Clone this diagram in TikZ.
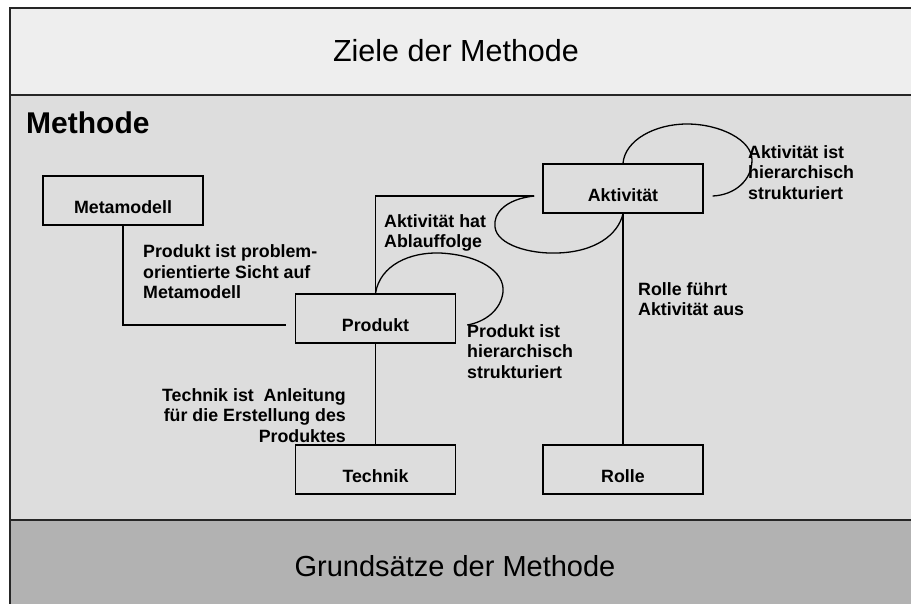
\documentclass[tikz,border=0pt]{standalone}
\usepackage{fontspec}
\setmainfont{Liberation Sans}
\definecolor{zielgray}{RGB}{238,238,238}
\definecolor{methgray}{RGB}{221,221,221}
\definecolor{grundgray}{RGB}{178,178,178}
\begin{document}
\begin{tikzpicture}[x=1pt,y=-1pt,
  frame/.style={line width=1.6pt,black!85},
  box/.style={draw,line width=1.4pt,minimum width=160pt,minimum height=49pt,inner sep=0pt,
    font=\bfseries\fontsize{17.8}{20.5}\selectfont,text height=26pt,text depth=0pt},
  lbl/.style={inner sep=0pt,font=\bfseries\fontsize{17.8}{20.5}\selectfont},
  link/.style={line width=1.3pt}]
  \useasboundingbox (0,0) rectangle (911,603);
  \clip (0,0) rectangle (911,603);
  %Bands
  \fill[zielgray] (10,8) rectangle (920,95);
  \fill[methgray] (10,95) rectangle (920,520);
  \fill[grundgray] (10,520) rectangle (920,610);
  \draw[frame] (920,8) -- (10,8) -- (10,610);
  \draw[frame] (10,95) -- (920,95);
  \draw[frame] (10,520) -- (920,520);
  \node[anchor=base,inner sep=0pt,font=\fontsize{30.5}{36}\selectfont] (ziele) at (456,61) {Ziele der Methode};
  \node[anchor=base,inner sep=0pt,font=\fontsize{29}{34}\selectfont] (grund) at (455,576) {Grundsätze der Methode};
  \node[anchor=base west,inner sep=0pt,font=\bfseries\fontsize{30}{36}\selectfont] (meth) at (26,133) {Methode};

  %Elements of the method
  \node[box] (meta) at (123,200.5) {Metamodell};
  \node[box] (prod) at (375.5,318.5) {Produkt};
  \node[box] (tech) at (375.5,469.5) {Technik};
  \node[box] (akt) at (623,188.5) {Aktivität};
  \node[box] (rolle) at (623,469.5) {Rolle};

  %Relations
  \draw[link] (meta.south) |- ([xshift=-9pt,yshift=-6.5pt]prod.west);
  \draw[link] (prod.north) |- ([xshift=-8pt,yshift=-7.5pt]akt.west) coordinate (ablauf);
  \draw[link] (prod.south) -- (tech.north);
  \draw[link] (akt.south) -- (rolle.north);
  %Self relations
  \draw[link] (ablauf) .. controls (505,199) and (493,214) .. (495,227)
    .. controls (497,245) and (530,254) .. (557,253)
    .. controls (595,252) and (618,235) .. (akt.south);
  \draw[link] (prod.north) .. controls (380,265) and (410,252) .. (440,253)
    .. controls (480,255) and (505,272) .. (503,292)
    .. controls (501,310) and (485,322) .. ([xshift=11pt,yshift=-6.5pt]prod.east);
  \draw[link] (akt.north) .. controls (625,140) and (655,124) .. (687,124)
    .. controls (720,124) and (752,140) .. (752,160)
    .. controls (752,180) and (735,195) .. ([xshift=9pt,yshift=-7.5pt]akt.east);

  %Labels of the relations
  \node[lbl,anchor=north west,align=left] (metalbl) at (143,244.5) {Produkt ist problem-\\orientierte Sicht auf\\Metamodell};
  \node[lbl,anchor=north west,align=left] (ablauflbl) at (384,214) {Aktivität hat\\Ablauffolge};
  \node[lbl,anchor=north west,align=left] (prodlbl) at (467,324) {Produkt ist\\hierarchisch\\strukturiert};
  \node[lbl,anchor=north west,align=left] (rollelbl) at (638,282) {Rolle führt\\Aktivität aus};
  \node[lbl,anchor=north west,align=left] (aktlbl) at (748,145) {Aktivität ist\\hierarchisch\\strukturiert};
  \node[lbl,anchor=north east,align=right] (techlbl) at (346,388) {Technik ist~~Anleitung\\für die Erstellung des\\Produktes};
\end{tikzpicture}
\end{document}
